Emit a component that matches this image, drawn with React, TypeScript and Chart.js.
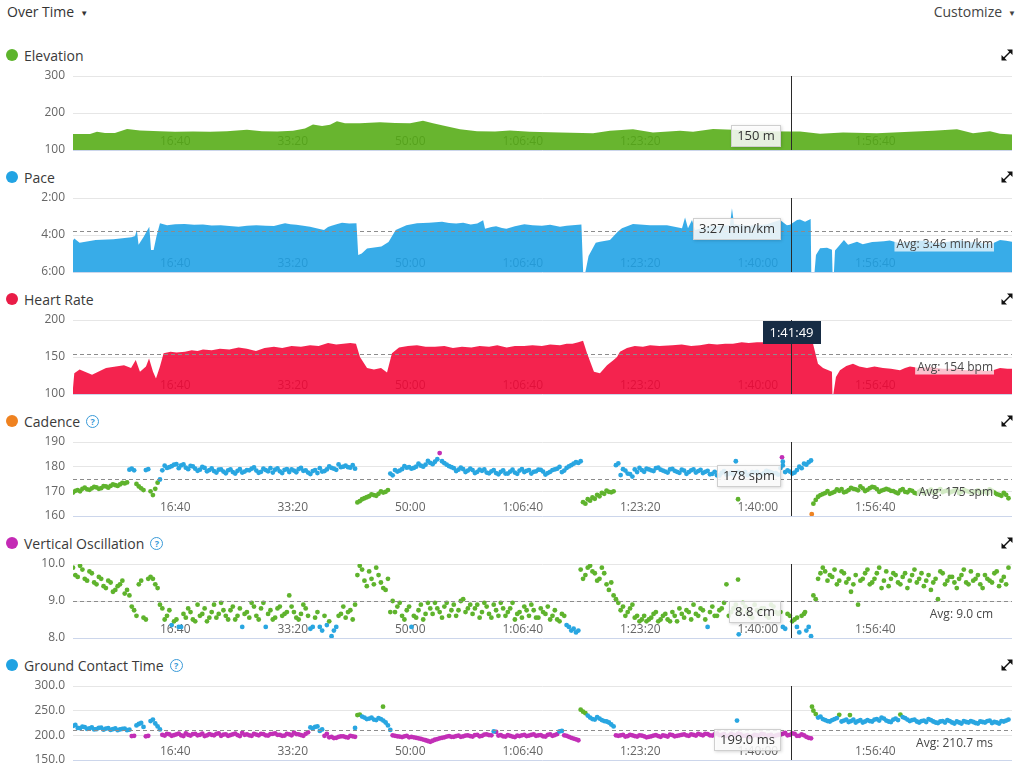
import React, { useEffect, useRef } from "react";
import { Chart, registerables } from "chart.js";

Chart.register(...registerables);

const FONT = "'Open Sans', 'Noto Sans', sans-serif";
Chart.defaults.font.family = FONT;

// ---------- data ----------
const X_MAX = 7990; // seconds, right edge of the activity
const SAMPLE_STEP = 40; // seconds between dot samples (second array sits half a step later)
const xTicks = [1000, 2000, 3000, 4000, 5000, 6000, 7000];
const cursorTime = 6109; // 1:41:49

// [seconds, metres]
const elevationSeries: [number, number][] = [
  [0, 143], [145, 143], [204, 149], [272, 146], [357, 146], [460, 157], [570, 153], [740, 151], [868, 149],
  [1021, 150], [1166, 149], [1310, 151], [1480, 155], [1608, 151], [1736, 150], [1872, 152], [1974, 158],
  [2042, 169], [2119, 165], [2187, 168], [2246, 178], [2314, 172], [2442, 172], [2612, 175], [2740, 173],
  [2868, 172], [2978, 179], [3063, 172], [3148, 166], [3293, 156], [3438, 151], [3591, 150], [3718, 153],
  [3889, 149], [4144, 147], [4425, 145], [4569, 152], [4765, 156], [4935, 147], [5165, 152], [5276, 149],
  [5446, 157], [5616, 155], [5846, 151], [6101, 150], [6186, 150], [6357, 144], [6552, 147], [6841, 145],
  [7122, 149], [7318, 152], [7522, 156], [7658, 145], [7803, 151], [7888, 144], [7990, 142],
];

// [seconds, pace in seconds per km]
const paceSeries: [number, number][] = [
  [0, 258], [11, 251], [56, 265], [193, 256], [345, 254], [497, 247], [528, 243], [543, 224], [558, 272],
  [603, 245], [649, 213], [664, 289], [686, 289], [710, 245], [740, 202], [800, 208], [870, 205], [950, 204],
  [1030, 207], [1106, 206], [1180, 209], [1257, 208], [1330, 211], [1409, 213], [1480, 210], [1560, 208],
  [1640, 210], [1710, 211], [1760, 206], [1804, 202], [1850, 205], [1900, 207], [1960, 210], [2017, 213],
  [2080, 219], [2136, 224], [2170, 214], [2200, 210], [2250, 204], [2289, 200], [2350, 203], [2412, 202],
  [2427, 305], [2457, 300], [2502, 284], [2624, 277], [2685, 263], [2746, 224], [2837, 208], [2927, 202],
  [3030, 200], [3140, 197], [3200, 201], [3260, 203], [3320, 200], [3384, 206], [3440, 203], [3490, 192],
  [3506, 220], [3560, 214], [3600, 212], [3650, 217], [3688, 220], [3760, 212], [3840, 205], [3910, 208],
  [3990, 210], [4060, 207], [4144, 213], [4200, 210], [4250, 208], [4326, 206],
  [4341, 360], [4360, 360], [4387, 308], [4448, 265], [4484, 262], [4569, 256], [4637, 229], [4671, 218],
  [4765, 204], [4910, 208], [5054, 208], [5182, 218], [5208, 183], [5233, 218], [5267, 191], [5293, 224],
  [5420, 212], [5590, 208], [5607, 153], [5625, 205], [5750, 210], [5900, 206], [6016, 191], [6075, 208],
  [6101, 207], [6161, 191], [6186, 190], [6229, 197], [6277, 188], [6282, 360], [6310, 360], [6322, 305],
  [6357, 283], [6416, 281], [6458, 288], [6463, 360], [6475, 360], [6484, 290], [6526, 272], [6560, 256],
  [6595, 272], [6640, 266], [6671, 262], [6720, 270], [6756, 267], [6800, 263], [6841, 262], [6900, 260],
  [6950, 258], [7020, 265], [7100, 263], [7180, 258], [7250, 259], [7330, 266], [7400, 264], [7480, 260],
  [7550, 257], [7620, 264], [7700, 262], [7760, 268], [7828, 267], [7888, 256], [7940, 259], [7990, 262],
];

// [seconds, bpm]
const heartRateSeries: [number, number][] = [
  [0, 108], [11, 128], [56, 133], [162, 126], [281, 135], [434, 139], [494, 135], [534, 146], [570, 130],
  [621, 137], [647, 148], [681, 130], [706, 121], [740, 137], [771, 155], [830, 157], [880, 156], [953, 157],
  [1010, 159], [1060, 158], [1106, 160], [1180, 159], [1250, 161], [1330, 160], [1409, 163], [1480, 161],
  [1557, 158], [1630, 162], [1710, 164], [1780, 162], [1860, 165], [1940, 164], [2017, 166], [2090, 165],
  [2170, 169], [2240, 167], [2300, 168], [2360, 169], [2408, 168],
  [2442, 150], [2502, 135], [2561, 133], [2621, 135], [2672, 129], [2714, 155], [2774, 163], [2850, 165],
  [2927, 166], [3000, 164], [3080, 164], [3160, 165], [3233, 162], [3310, 164], [3390, 163], [3460, 165],
  [3540, 164], [3610, 166], [3690, 163], [3760, 165], [3838, 165], [3910, 166], [3990, 165], [4060, 167],
  [4144, 166], [4200, 168], [4250, 168], [4300, 170], [4340, 172], [4374, 155], [4433, 130], [4484, 128],
  [4544, 139], [4600, 146], [4629, 150], [4654, 157], [4714, 162], [4780, 165], [4850, 164], [4910, 166],
  [4990, 165], [5100, 166], [5180, 167], [5260, 165], [5335, 166], [5410, 168], [5480, 167], [5550, 168],
  [5616, 168], [5690, 170], [5750, 169], [5820, 170], [5871, 170], [5950, 169], [6030, 171], [6100, 170],
  [6200, 169], [6297, 168], [6339, 141], [6382, 135], [6458, 130], [6462, 100], [6470, 100],
  [6492, 123], [6526, 132], [6580, 138], [6637, 141], [6690, 137], [6756, 135], [6820, 137], [6892, 135],
  [6960, 134], [7037, 132], [7080, 135], [7122, 137], [7200, 135], [7300, 136], [7400, 134], [7500, 134],
  [7600, 132], [7700, 133], [7760, 131], [7828, 132], [7888, 135], [7950, 134], [7990, 134],
];

// cadence (spm): one value every SAMPLE_STEP seconds, plus the in-between samples
const cadenceValues: number[] = [
  169.5, 170.5, 171, 170.8, 171.2, 171.6, 171.3, 172, 172.2, 172.5, 172.8, 173.2,
  178.8, 178.5, 172, 170.5, 179, 168.5, 173.5, 178.5,
  179.5, 180.2, 181, 180.5, 179.6, 180.3, 179.2, 178.8, 179.5, 178.6,
  178.2, 178.8, 178, 178.5, 177.8, 178.3, 177.6, 178.6, 179.2, 178.4,
  177.9, 178.6, 179.4, 178.8, 178.1, 178.7, 177.8, 178.4, 179, 178.3,
  177.6, 178.2, 177.4, 178, 178.9, 179.5, 178.7, 179.8, 180.4, 179.6, 179.2,
  166, 167.2, 168, 168.5, 169, 169.5, 170.5, 176.5,
  178, 179, 179.6, 179.2, 180, 180.4, 180.8, 181.5, 182, 185.5,
  181.4, 180.2, 179.4, 178.8, 179, 178.4, 178.6, 177.9, 178.3, 177.6,
  178.1, 177.4, 177.9, 177.2, 178, 177.6, 178.4, 177.8, 178.6, 177.9,
  178.8, 178, 177.4, 178.6, 179.2, 177.8, 179.5, 180.6, 181.8, 182.2,
  165, 166.2, 167, 168, 169, 169.8, 170, 181.3,
  179, 177.2, 176, 177.8, 178.6, 179.2, 178.5, 179.4, 178.8, 178,
  178.9, 178.3, 177.5, 178.4, 177.8, 178.9, 178.2, 177.4, 178.3, 177.1,
  176.5, 177.5, 176.8, 177.6, 182.2, 177.2, 177.8, 176.9, 177.5, 176.6,
  177.4, 178, 177.3, 176.8,
  180.5, 178.5, 177.2, 178.6, 179.4, 180.8, 182.5, 166.5,
  168.5, 169.3, 169, 169.8, 170.2, 169.6, 170.5, 171, 170.4, 171.2,
  170.6, 171.8, 170.9, 170.3, 171, 170.2, 169.6, 170.4, 169.8, 170.5,
  169.4, 169.9, 169.2, 170.1, 169.5, 170.3, 169.7, 170.4, 169.9, 170.6,
  169.8, 170.2, 169.6, 170, 169.3, 170.1, 170.8, 169.5, 168.6, 169.4, 167.2,
];
const cadenceMid: number[] = [
  170.2, 170, 171.5, 170.6, 171.8, 171, 172.1, 171.5, 172.8, 172.2, 173.4, 173.6,
  179.2, 173, 171.2, 178.6, 170, 171, 174.8,
  180.4, 179.8, 180.8, 179.4, 180.9, 179, 180.1, 178.3, 179.9, 178.1,
  179.3, 177.6, 178.9, 177.3, 178.9, 177.2, 179, 178, 178.5, 179.7,
  177.5, 179.2, 178.1, 177.6, 179.3, 177.4, 179, 178.9, 177.7, 179.5,
  178.5, 177, 178.6, 179.4, 178.2, 180.1, 179.2, 180.9, 180, 179.8, 180.6,
  165.5, 166.8, 167.6, 168.8, 168.2, 170, 169.8, 177.2,
  178.6, 178.4, 180.2, 179.8, 179.5, 181.2, 180, 182.3, 181, 183,
  182.2, 180.8, 179.8, 178.2, 179.6, 177.8, 179.2, 177.4, 178.8, 178.9,
  177.3, 178.6, 176.9, 178.5, 177.2, 178.8, 177.1, 179, 178.3, 177.2,
  178.1, 178.7, 176.8, 177.9, 178.9, 179.9, 178.4, 180.1, 181.2, 181.5,
  165.6, 166.8, 167.5, 168.6, 169.4, 170.3, 169.6, 180.6,
  176.6, 178.4, 177, 178.9, 179.5, 177.9, 178.9, 178.2, 179.6, 178.4,
  177.6, 179.1, 177.9, 178.8, 177.1, 178.5, 177.6, 178.7, 177.9, 176.9,
  177.9, 176.4, 178.2, 177.1, 176.8, 177.9, 177.1, 176.5, 177.8, 177.9,
  176.9, 178.3, 177.7, 177.4,
  179.5, 177.8, 178, 177.6, 180, 181.2, 181.8, 165,
  167.8, 168.9, 170.1, 169.4, 170.8, 170.9, 169.9, 171.4, 170.8, 172,
  170.1, 171.3, 171.6, 169.8, 170.6, 170.7, 170.1, 169.2, 170.9, 169.6,
  170.2, 169.1, 170.5, 169.6, 170.7, 169.3, 170.9, 170.1, 169.5, 170.3,
  169.3, 170.6, 169.9, 169.5, 170.4, 169.8, 169.2, 170.2, 168.9, 168.2, 168.6,
];
const cadenceExtra: [number, number][] = [[5659, 166.8], [6033, 183.8], [6040, 182], [6286, 160.8]];

// vertical oscillation (cm)
const oscillationValues: number[] = [
  9.9, 9.65, 9.85, 9.55, 9.75, 9.45, 9.6, 9.35, 9.5, 9.3, 9.45, 9.2, 9.15,
  8.75, 9.45, 8.55, 9.6, 9.6, 9.35,
  8.8, 8.6, 8.35, 8.5, 8.3, 8.55, 8.7, 8.45, 8.6, 8.8,
  8.55, 8.9, 8.65, 8.75, 8.5, 8.85, 8.6, 8.3, 8.7, 8.95,
  8.6, 8.8, 8.3, 8.75, 8.55, 8.85, 8.65, 9.15, 8.7, 8.5,
  8.9, 8.6, 8.3, 8.7, 8.2, 8.35, 8.05, 8.3, 8.65, 8.55, 8.75, 8.9,
  9.95, 9.55, 9.8, 9.45, 9.7, 9.35, 9.6,
  9.0, 8.85, 8.6, 8.75, 8.3, 8.55, 8.9, 8.65, 8.8, 8.95,
  8.7, 8.85, 8.6, 8.9, 8.75, 9.05, 8.8, 8.65, 8.9, 8.7,
  8.85, 8.55, 8.75, 8.95, 8.6, 8.8, 8.5, 8.7, 8.85, 8.6,
  8.75, 8.55, 8.7, 8.85, 8.6, 8.5, 8.65, 8.35, 8.2, 8.15,
  9.85, 9.7, 9.95, 9.75, 9.6, 9.75, 9.3, 9.15,
  8.95, 8.85, 8.7, 8.9, 8.6, 8.5, 8.45, 8.55, 8.7, 8.5,
  8.65, 8.45, 8.6, 8.8, 8.55, 8.7, 8.9, 8.6, 8.75, 8.3,
  8.85, 8.6, 8.8, 9.45, 8.7, 8.9, 8.75, 8.85, 8.6, 8.9,
  8.7, 8.8, 8.55, 8.85, 8.65,
  8.3, 8.65, 8.45, 8.3, 8.6, 8.2, 8.05,
  9.05, 9.75, 9.8, 9.7, 9.85, 9.55, 9.75, 9.6, 9.45, 8.9,
  9.6, 9.85, 9.5, 9.75, 9.35, 9.8, 9.6, 9.7, 9.45, 9.75,
  9.55, 9.85, 9.6, 9.4, 9.7, 9.5, 9.05, 9.75, 9.55, 9.65,
  9.35, 9.7, 9.5, 9.8, 9.6, 9.45, 9.7, 9.55, 9.75, 9.4,
  9.65, 9.9,
];
const oscillationMid: number[] = [
  9.7, 9.95, 9.6, 9.8, 9.5, 9.65, 9.4, 9.55, 9.25, 9.4, 9.55, 9.3,
  8.85, 8.6, 9.55, 8.5, 9.65, 9.45, 8.9,
  8.5, 8.75, 8.45, 8.3, 8.65, 8.8, 8.5, 8.9, 8.65, 8.45,
  8.7, 8.55, 8.95, 8.6, 8.75, 8.5, 8.8, 8.65, 8.55, 8.85,
  8.5, 8.95, 8.65, 8.5, 8.8, 8.6, 8.7, 8.85, 8.55, 8.65,
  8.8, 8.25, 8.55, 8.3, 8.6, 8.45, 8.2, 8.6, 8.85, 8.7, 8.5,
  9.7, 9.85, 9.4, 9.6, 9.9, 9.5, 9.3, 8.7,
  8.7, 8.95, 8.5, 8.85, 8.6, 8.75, 8.5, 8.95, 8.65, 8.8,
  8.55, 8.95, 8.75, 8.6, 9.0, 8.7, 8.9, 8.8, 8.55, 8.95,
  8.65, 8.9, 8.6, 8.8, 8.7, 8.95, 8.65, 8.55, 8.75, 8.9,
  8.55, 8.8, 8.65, 8.5, 8.75, 8.45, 8.6, 8.3, 8.25, 8.2,
  9.6, 9.9, 9.8, 9.55, 9.9, 9.45, 9.5, 9.05,
  8.75, 8.6, 8.8, 8.55, 8.45, 8.6, 8.5, 8.65, 8.45, 8.6,
  8.5, 8.7, 8.45, 8.65, 8.75, 8.5, 8.65, 8.8, 8.5, 8.7,
  8.6, 8.75, 8.95, 8.6, 8.8, 8.65, 8.95, 8.7, 8.55, 8.75,
  8.8, 8.6, 8.9, 8.7,
  8.7, 8.25, 8.6, 8.5, 8.15, 8.65, 8.3, 9.15,
  9.6, 9.9, 9.55, 9.65, 9.45, 9.8, 9.5, 9.25, 9.7, 9.55,
  9.75, 9.45, 9.6, 9.9, 9.55, 9.4, 9.75, 9.5, 9.65, 9.35,
  9.7, 9.5, 9.75, 9.55, 9.3, 9.6, 9.8, 9.45, 9.65, 9.5,
  9.6, 9.85, 9.45, 9.55, 9.7, 9.35, 9.6, 9.5, 9.8, 9.55, 9.45,
];
const oscillationExtra: [number, number][] = [[5659, 9.58], [5665, 8.1], [6161, 8.55], [6229, 8.7]];

// ground contact time (ms)
const contactValues: number[] = [
  219, 215, 217.5, 213, 216, 212.5, 215.5, 213.5, 211, 214, 212, 213.5, 211.5,
  199, 223, 217, 199, 232, 218,
  201, 203, 199, 202, 200, 204, 199.5, 203, 201, 198.5,
  202.5, 200, 204, 201.5, 199, 202, 200.5, 205, 202, 199,
  201.5, 203, 200, 202.5, 204, 201, 199.5, 202, 205.5, 202,
  199, 206, 214, 218, 212, 203, 197, 195, 198, 196.5, 199, 197,
  242, 236, 234, 232, 235, 230, 220,
  200, 198, 196.5, 199, 197, 195, 193, 190, 187, 191,
  194, 196, 198.5, 197, 199.5, 198, 200, 197.5, 201, 199,
  202, 200, 207, 200.5, 197.5, 199, 196.5, 198.5, 201, 199.5,
  202, 200, 198, 201, 199, 202.5, 209, 199, 195, 192,
  252, 245, 236, 232, 234, 229, 226, 218,
  199, 201, 198.5, 200, 197.5, 199.5, 196, 198, 200.5, 197,
  199, 201.5, 198, 200, 202, 199, 201, 203, 200, 202.5,
  199.5, 204, 201, 198.5, 203, 200, 202, 199, 197.5, 201,
  199, 202, 200, 198, 201,
  203, 200, 204, 199, 202, 197, 194,
  243, 238, 231, 228, 233, 241.5, 230, 227, 232, 229,
  226, 231, 228, 233, 236, 230, 227, 234, 242, 235,
  229, 232, 226, 230, 233, 228, 225, 229, 231, 226,
  228, 224, 227, 229, 225, 228, 226, 230, 227, 224,
  228, 232,
];
const contactMid: number[] = [
  221, 214.5, 216.5, 214, 212, 215, 211.5, 214.5, 212.5, 210.5, 213, 210.5,
  198.5, 220, 225, 198, 229, 224, 212,
  199.5, 202, 200.5, 203.5, 198.5, 201, 202.5, 200, 203.5, 200,
  201, 203, 199, 202, 200.5, 203.5, 198.5, 201, 200, 203,
  200, 202.5, 199.5, 203, 201, 199, 203, 200, 202.5, 200.5,
  203, 216, 217, 209, 199, 196, 194.5, 197, 198, 195.5, 198,
  241, 238, 233, 236, 231, 233, 226, 211,
  199, 197.5, 198, 196, 196, 194, 191.5, 188.5, 189, 192.5,
  195, 197.5, 197, 198.5, 197, 199.5, 198.5, 200.5, 198, 201.5,
  200.5, 208, 199.5, 198, 200.5, 197.5, 199.5, 200, 198.5, 201,
  199, 200.5, 197.5, 202, 200.5, 208, 200, 197, 193.5, 190,
  248, 240, 233, 237, 231, 228, 222, 200,
  200, 197.5, 201, 198.5, 200, 198, 197, 199.5, 198.5, 200,
  197.5, 200.5, 199, 201, 200, 202, 199.5, 201.5, 203, 200,
  202, 200.5, 202.5, 199.5, 201, 203.5, 199, 200.5, 198.5, 200,
  203, 199, 201, 199.5,
  201.5, 205, 201, 203, 199, 200, 195, 250,
  236, 233, 229, 231, 235, 228, 232, 229, 226, 231,
  228, 229, 232, 230, 234, 228, 232, 231, 237, 232,
  231, 228, 229, 227, 231, 226, 228, 226, 229, 224,
  226, 229, 226, 227, 224, 227, 229, 225, 226, 229, 230,
];
const contactExtra: [number, number][] = [[2400, 215], [2638, 258], [5650, 230], [6288, 258], [6611, 241]];

// ---------- helpers ----------
const pad2 = (n: number) => String(n).padStart(2, "0");
function fmtClock(t: number) {
  const h = Math.floor(t / 3600);
  const m = Math.floor((t % 3600) / 60);
  const s = Math.round(t % 60);
  return h > 0 ? `${h}:${pad2(m)}:${pad2(s)}` : `${m}:${pad2(s)}`;
}
function sampled(values: number[], mid: number[], extra: [number, number][]) {
  const a = values.map((v, i) => ({ x: i * SAMPLE_STEP, y: v }));
  const b = mid.map((v, i) => ({ x: i * SAMPLE_STEP + SAMPLE_STEP / 2, y: v }));
  return a.concat(b, extra.map(([x, y]) => ({ x, y })));
}

const PURPLE = "#c22fb6";
const BLUE = "#29a6e1";
const GREEN = "#5fb32d";
const ORANGE = "#ee8424";

type Panel = {
  key: string;
  title: string;
  dot: string;
  help: boolean;
  kind: "area" | "scatter";
  series?: [number, number][];
  points?: { x: number; y: number }[];
  fill?: string;
  zone?: (v: number) => string;
  yMin: number;
  yMax: number;
  yStep: number;
  reverse?: boolean;
  fmt: (v: number) => string;
  avg?: number;
  avgLabel?: string;
  tipText?: string;
  tipValue?: number;
  badge?: boolean;
};

const panels: Panel[] = [
  {
    key: "elev", title: "Elevation", dot: "#5db42c", help: false, kind: "area",
    series: elevationSeries, fill: "rgba(83,171,18,0.88)",
    yMin: 100, yMax: 300, yStep: 100, fmt: (v) => String(v),
    tipText: "150 m", tipValue: 150,
  },
  {
    key: "pace", title: "Pace", dot: "#22a3e3", help: false, kind: "area",
    series: paceSeries, fill: "rgba(29,161,229,0.88)",
    yMin: 120, yMax: 360, yStep: 120, reverse: true, fmt: (v) => fmtClock(v),
    avg: 226, avgLabel: "Avg: 3:46 min/km", tipText: "3:27 min/km", tipValue: 207,
  },
  {
    key: "hr", title: "Heart Rate", dot: "#e91c47", help: false, kind: "area",
    series: heartRateSeries, fill: "rgba(243,4,54,0.88)",
    yMin: 100, yMax: 200, yStep: 50, fmt: (v) => String(v),
    avg: 154, avgLabel: "Avg: 154 bpm", badge: true,
  },
  {
    key: "cad", title: "Cadence", dot: "#ef8220", help: true, kind: "scatter",
    points: sampled(cadenceValues, cadenceMid, cadenceExtra),
    zone: (v) => (v >= 183.5 ? PURPLE : v >= 174 ? BLUE : v >= 164 ? GREEN : ORANGE),
    yMin: 160, yMax: 190, yStep: 10, fmt: (v) => String(v),
    avg: 175, avgLabel: "Avg: 175 spm", tipText: "178 spm", tipValue: 178,
  },
  {
    key: "vo", title: "Vertical Oscillation", dot: "#c42ab5", help: true, kind: "scatter",
    points: sampled(oscillationValues, oscillationMid, oscillationExtra),
    zone: (v) => (v < 6.7 ? PURPLE : v < 8.4 ? BLUE : v <= 10 ? GREEN : ORANGE),
    yMin: 8, yMax: 10, yStep: 1, fmt: (v) => v.toFixed(1),
    avg: 9.0, avgLabel: "Avg: 9.0 cm", tipText: "8.8 cm", tipValue: 8.8,
  },
  {
    key: "gct", title: "Ground Contact Time", dot: "#1fa2e2", help: true, kind: "scatter",
    points: sampled(contactValues, contactMid, contactExtra),
    zone: (v) => (v < 208 ? PURPLE : v <= 240.5 ? BLUE : v <= 272 ? GREEN : ORANGE),
    yMin: 150, yMax: 300, yStep: 50, fmt: (v) => v.toFixed(1),
    avg: 210.7, avgLabel: "Avg: 210.7 ms", tipText: "199.0 ms", tipValue: 199,
  },
];

const PLOT_TOP0 = 76;
const PANEL_GAP = 122;
const PLOT_H = 74;
const PAD_V = 10;

function makeOverlay(p: Panel) {
  return {
    id: "overlay_" + p.key,
    beforeDatasetsDraw(chart: any) {
      const { ctx, chartArea: a } = chart;
      const xs = chart.scales.x;
      ctx.save();
      ctx.font = `12px ${FONT}`;
      ctx.fillStyle = "#666";
      ctx.textAlign = "right";
      ctx.textBaseline = "middle";
      xTicks.forEach((t) => ctx.fillText(fmtClock(t), xs.getPixelForValue(t), a.bottom - 8));
      ctx.restore();
    },
    afterDatasetsDraw(chart: any) {
      const { ctx, chartArea: a } = chart;
      const xs = chart.scales.x;
      const ys = chart.scales.y;
      ctx.save();
      if (p.avg != null && p.avgLabel) {
        const yy = Math.round(ys.getPixelForValue(p.avg)) + 0.5;
        ctx.strokeStyle = "#8c8c8c";
        ctx.lineWidth = 1;
        ctx.setLineDash([4, 3]);
        ctx.beginPath();
        ctx.moveTo(a.left, yy);
        ctx.lineTo(a.right, yy);
        ctx.stroke();
        ctx.setLineDash([]);
        ctx.font = `12px ${FONT}`;
        const w = ctx.measureText(p.avgLabel).width;
        const rx = a.right - 19;
        const cy = yy + 13;
        ctx.fillStyle = "rgba(255,255,255,0.72)";
        ctx.fillRect(rx - w - 2, cy - 7, w + 3, 14);
        ctx.fillStyle = "#484848";
        ctx.textAlign = "right";
        ctx.textBaseline = "middle";
        ctx.fillText(p.avgLabel, rx, cy);
      }
      const cx = Math.round(xs.getPixelForValue(cursorTime)) + 0.5;
      ctx.strokeStyle = "#2a2a2a";
      ctx.lineWidth = 1;
      ctx.beginPath();
      ctx.moveTo(cx, a.top);
      ctx.lineTo(cx, a.bottom);
      ctx.stroke();
      if (p.tipText && p.tipValue != null) {
        ctx.font = `13px ${FONT}`;
        const tw = ctx.measureText(p.tipText).width;
        const bw = Math.round(tw + 12);
        const bh = 22;
        const right = Math.round(cx - 11);
        const py = ys.getPixelForValue(p.tipValue) + 4;
        let top = Math.round(py - bh / 2);
        top = Math.max(a.top, Math.min(a.bottom - bh, top));
        ctx.shadowColor = "rgba(0,0,0,0.18)";
        ctx.shadowBlur = 3;
        ctx.shadowOffsetX = 1;
        ctx.shadowOffsetY = 1;
        ctx.fillStyle = "rgba(255,255,255,0.86)";
        ctx.fillRect(right - bw, top, bw, bh);
        ctx.shadowColor = "rgba(0,0,0,0)";
        ctx.shadowBlur = 0;
        ctx.shadowOffsetX = 0;
        ctx.shadowOffsetY = 0;
        ctx.strokeStyle = "#cfcfcf";
        ctx.strokeRect(right - bw + 0.5, top + 0.5, bw - 1, bh - 1);
        ctx.fillStyle = "#333";
        ctx.textAlign = "center";
        ctx.textBaseline = "middle";
        ctx.fillText(p.tipText, right - bw / 2, top + bh / 2 + 0.5);
      }
      if (p.badge) {
        const label = fmtClock(cursorTime);
        ctx.font = `13px ${FONT}`;
        const tw = ctx.measureText(label).width;
        const bw = Math.round(tw + 14);
        const bh = 23;
        ctx.fillStyle = "#172c44";
        ctx.fillRect(Math.round(cx - bw / 2), a.top + 1, bw, bh);
        ctx.fillStyle = "#ffffff";
        ctx.textAlign = "center";
        ctx.textBaseline = "middle";
        ctx.fillText(label, cx, a.top + 1 + bh / 2 + 0.5);
      }
      ctx.restore();
    },
  };
}

function ExpandIcon({ top }: { top: number }) {
  return (
    <svg width={12} height={12} viewBox="0 0 12 12" style={{ position: "absolute", left: 1001, top }}>
      <line x1={2.5} y1={9.5} x2={9.5} y2={2.5} stroke="#111" strokeWidth={1.4} />
      <polygon points="6,0.5 11.5,0.5 11.5,6" fill="#111" />
      <polygon points="0.5,6 0.5,11.5 6,11.5" fill="#111" />
    </svg>
  );
}

function ChartPanel({ p, plotTop }: { p: Panel; plotTop: number }) {
  const ref = useRef<HTMLCanvasElement | null>(null);

  useEffect(() => {
    if (!ref.current) return;
    const bottomVal = p.reverse ? p.yMax : p.yMin;
    const dataset: any =
      p.kind === "area"
        ? {
            type: "line",
            data: (p.series || []).map(([x, y]) => ({ x, y })),
            borderColor: "rgba(0,0,0,0)",
            borderWidth: 0,
            pointRadius: 0,
            fill: "start",
            backgroundColor: p.fill,
            tension: 0,
          }
        : {
            type: "scatter",
            data: p.points || [],
            pointRadius: 2.4,
            pointBorderWidth: 0,
            pointBackgroundColor: (c: any) => (p.zone ? p.zone(c.raw ? c.raw.y : 0) : BLUE),
            pointBorderColor: "rgba(0,0,0,0)",
          };
    const chart = new Chart(ref.current, {
      type: p.kind === "area" ? "line" : "scatter",
      data: { datasets: [dataset] },
      options: {
        animation: false,
        responsive: true,
        maintainAspectRatio: false,
        events: [],
        layout: { padding: { top: PAD_V, bottom: PAD_V, left: 0, right: 12 } },
        plugins: { legend: { display: false }, tooltip: { enabled: false } },
        scales: {
          x: { type: "linear", min: 0, max: X_MAX, display: false },
          y: {
            type: "linear",
            min: p.yMin,
            max: p.yMax,
            reverse: !!p.reverse,
            afterFit: (s: any) => {
              s.width = 73;
              s.paddingTop = 0;
              s.paddingBottom = 0;
            },
            border: { display: false },
            grid: {
              drawTicks: false,
              color: (c: any) => (c.tick && c.tick.value === bottomVal ? "#ccd6eb" : "#e6e6e6"),
            },
            ticks: {
              stepSize: p.yStep,
              padding: 8,
              color: "#666",
              font: { size: 12, family: FONT },
              callback: (v: any) => p.fmt(Number(v)),
            },
          },
        },
      } as any,
      plugins: [makeOverlay(p)],
    } as any);
    return () => chart.destroy();
  }, [p]);

  return (
    <>
      <div
        style={{
          position: "absolute",
          left: 6,
          top: plotTop - 30,
          height: 18,
          display: "flex",
          alignItems: "center",
          fontSize: 14,
          color: "#3a3a3a",
          whiteSpace: "nowrap",
        }}
      >
        <span style={{ width: 12, height: 12, borderRadius: "50%", background: p.dot, display: "inline-block" }} />
        <span style={{ marginLeft: 6 }}>{p.title}</span>
        {p.help && (
          <span
            style={{
              marginLeft: 6,
              width: 11,
              height: 11,
              borderRadius: "50%",
              border: "1.2px solid #3a9ad8",
              color: "#3a9ad8",
              fontSize: 9,
              fontWeight: 700,
              display: "inline-flex",
              alignItems: "center",
              justifyContent: "center",
              lineHeight: 1,
            }}
          >
            ?
          </span>
        )}
      </div>
      <ExpandIcon top={plotTop - 27} />
      <div
        style={{
          position: "absolute",
          left: 0,
          top: plotTop - PAD_V,
          width: 1024,
          height: PLOT_H + 2 * PAD_V,
        }}
      >
        <canvas ref={ref} />
      </div>
    </>
  );
}

export default function App() {
  return (
    <div
      style={{
        position: "absolute",
        left: 0,
        top: 0,
        width: 1024,
        height: 769,
        overflow: "hidden",
        background: "#fff",
        fontFamily: FONT,
        color: "#333",
      }}
    >
      <div style={{ position: "absolute", left: 7, top: 3, fontSize: 14, lineHeight: "18px", color: "#333" }}>
        Over Time
        <span style={{ fontSize: 8, marginLeft: 6, position: "relative", top: -1 }}>▼</span>
      </div>
      <div style={{ position: "absolute", right: 8, top: 3, fontSize: 14, lineHeight: "18px", color: "#444" }}>
        Customize
        <span style={{ fontSize: 8, marginLeft: 6, position: "relative", top: -1 }}>▼</span>
      </div>
      {panels.map((p, i) => (
        <ChartPanel key={p.key} p={p} plotTop={PLOT_TOP0 + PANEL_GAP * i} />
      ))}
    </div>
  );
}
